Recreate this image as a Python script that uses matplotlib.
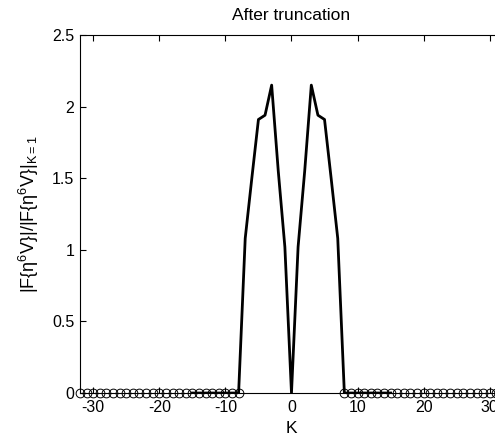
import numpy as np
import matplotlib
matplotlib.use("Agg")
import matplotlib.pyplot as plt

plt.rcParams['font.family'] = ['Liberation Sans', 'DejaVu Sans']
plt.rcParams['mathtext.fontset'] = 'custom'
plt.rcParams['mathtext.rm'] = 'Liberation Sans'
plt.rcParams['mathtext.it'] = 'Liberation Sans'
plt.rcParams['axes.unicode_minus'] = False

# Normalised spectrum magnitude after truncation (symmetric about K=0)
k_curve = list(range(-15, 16))
half = [0.0, 1.02, 1.55, 2.15, 1.94, 1.91, 1.5, 1.08, 0.0, 0.0, 0.0, 0.0, 0.0, 0.0, 0.0, 0.0]
v_curve = half[:0:-1] + half

# Truncated coefficients (zero outside |K| < 8)
k_zero = list(range(-32, -7)) + list(range(8, 33))
v_zero = [0.0] * len(k_zero)

xticks = [-30, -20, -10, 0, 10, 20, 30]
yticks = [0, 0.5, 1, 1.5, 2, 2.5]
ytick_labels = ['0', '0.5', '1', '1.5', '2', '2.5']

fig = plt.figure(figsize=(4.95, 4.38), dpi=100)
ax = fig.add_axes([0.1616, 0.1027, 0.8545, 0.8174])

ax.plot(k_zero, v_zero, 'o', mfc='none', mec='black', ms=6.3, mew=0.7,
        zorder=2, clip_on=False)
ax.plot(k_curve, v_curve, '-', color='black', lw=2.0, zorder=3)

ax.set_xlim(-32, 32)
ax.set_ylim(0, 2.5)
ax.set_xticks(xticks)
ax.set_yticks(yticks)
ax.set_yticklabels(ytick_labels)
ax.tick_params(direction='in', length=4, width=0.8, labelsize=11.5,
               top=True, right=True)
ax.tick_params(axis='x', pad=5)
ax.tick_params(axis='y', pad=4)
for s in ax.spines.values():
    s.set_linewidth(0.8)

ax.set_title('After truncation', fontsize=12.5, pad=11)
ax.set_xlabel('K', fontsize=12.5, labelpad=4)
ax.set_ylabel(r'$|\mathrm{F\{\eta^6V\}}|/|\mathrm{F\{\eta^6V\}}|_{\mathrm{K=1}}$',
              fontsize=13, labelpad=8)

fig.savefig('out.png', dpi=100)
